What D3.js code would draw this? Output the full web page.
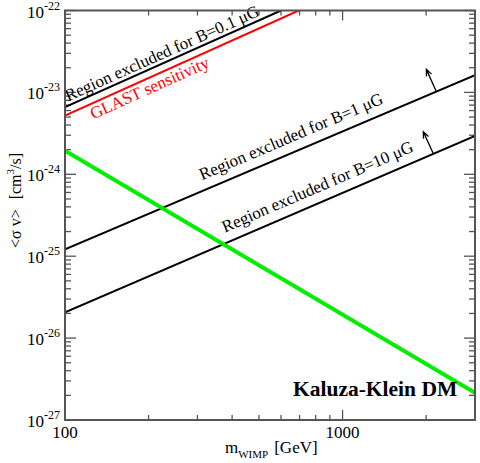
<!DOCTYPE html>
<html>
<head>
<meta charset="utf-8">
<script src="https://cdn.jsdelivr.net/npm/d3@7"></script>
<style>
  body { margin: 0; background: #fff; }
</style>
</head>
<body>
<div id="chart"></div>
<script>
// axis ranges and ticks
const massDomain = [100, 3000]
const sigmaDomain = [1e-27, 1e-22]
const massMajor = [100, 1000]
const massMinor = [200, 300, 400, 500, 600, 700, 800, 900, 2000]
const sigmaExp = [-27, -26, -25, -24, -23, -22]

// curves (endpoints)
const kkMass = [100, 3000]
const kkSigma = [1.94e-24, 2.15e-27]
const b01Mass = [100, 600]
const b01Sigma = [6.6e-24, 1e-22]
const glastMass = [100, 695]
const glastSigma = [5.2e-24, 1e-22]
const b1Mass = [100, 3000]
const b1Sigma = [1.21e-25, 1.62e-23]
const b10Mass = [100, 3000]
const b10Sigma = [2.07e-26, 2.94e-24]

// arrows: [base mass, base sigma, tip mass, tip sigma]
const arrows = [
    [2178, 1.02e-23, 2004, 1.91e-23],
    [2124, 1.78e-24, 1954, 3.3e-24]
]

const width = 480, height = 463
const margin = {left: 65, right: 5, top: 10.5, bottom: 43}
const serif = '"Liberation Serif", "Times New Roman", Times, "DejaVu Serif", serif'

let svg = d3.select('#chart').append('svg')
    .attr('width', width)
    .attr('height', height)
    .attr('font-family', serif)
    .style('font-family', serif)

let x = d3.scaleLog().domain(massDomain).range([margin.left, width - margin.right])
let y = d3.scaleLog().domain(sigmaDomain).range([height - margin.bottom, margin.top])

let x0 = margin.left, x1 = width - margin.right
let y0 = height - margin.bottom, y1 = margin.top

svg.append('defs').append('clipPath').attr('id', 'plotclip')
    .append('rect')
    .attr('x', x0).attr('y', y1)
    .attr('width', x1 - x0).attr('height', y0 - y1)

let axisColor = '#555'

// minor y ticks
let sigmaMinor = []
sigmaExp.slice(0, -1).forEach(function(e){
    for(let k = 2; k < 10; k++) sigmaMinor.push(k * Math.pow(10, e))
})

let ticks = svg.append('g').attr('stroke', axisColor).attr('stroke-width', 1.3)

function yTicks(values, len){
    values.forEach(function(v){
        ticks.append('line').attr('x1', x0).attr('x2', x0 + len).attr('y1', y(v)).attr('y2', y(v))
        ticks.append('line').attr('x1', x1).attr('x2', x1 - len).attr('y1', y(v)).attr('y2', y(v))
    })
}
function xTicks(values, len){
    values.forEach(function(v){
        ticks.append('line').attr('y1', y0).attr('y2', y0 - len).attr('x1', x(v)).attr('x2', x(v))
        ticks.append('line').attr('y1', y1).attr('y2', y1 + len).attr('x1', x(v)).attr('x2', x(v))
    })
}
yTicks(sigmaMinor, 6)
yTicks(sigmaExp.map(e => Math.pow(10, e)), 11)
xTicks(massMinor, 5)
xTicks(massMajor, 10)

// curves
let line = d3.line()
    .x(function(d){ return x(d[0]) })
    .y(function(d){ return y(d[1]) })

let plot = svg.append('g').attr('clip-path', 'url(#plotclip)')

function curve(mass, sigma, color, w){
    plot.append('path')
        .datum(mass.map((m, i) => [m, sigma[i]]))
        .attr('fill', 'none')
        .attr('stroke', color)
        .attr('stroke-width', w)
        .attr('d', line)
}
curve(b01Mass, b01Sigma, '#000', 2)
curve(glastMass, glastSigma, '#ff0000', 2)
curve(b1Mass, b1Sigma, '#000', 2)
curve(b10Mass, b10Sigma, '#000', 2)
curve(kkMass, kkSigma, '#00ee00', 4)

// arrows
arrows.forEach(function(a){
    let bx = x(a[0]), by = y(a[1]), tx = x(a[2]), ty = y(a[3])
    let ang = Math.atan2(by - ty, bx - tx)
    let head = 7
    svg.append('path')
        .attr('d', 'M' + bx + ',' + by + 'L' + tx + ',' + ty +
            'M' + (tx + head * Math.cos(ang + 0.4)) + ',' + (ty + head * Math.sin(ang + 0.4)) +
            'L' + tx + ',' + ty +
            'L' + (tx + head * Math.cos(ang - 0.4)) + ',' + (ty + head * Math.sin(ang - 0.4)))
        .attr('fill', 'none')
        .attr('stroke', '#000')
        .attr('stroke-width', 1.3)
})

// labels along lines
function sigmaAt(mass, sigma, m){
    let t = (Math.log10(m) - Math.log10(mass[0])) / (Math.log10(mass[1]) - Math.log10(mass[0]))
    return Math.pow(10, Math.log10(sigma[0]) + t * (Math.log10(sigma[1]) - Math.log10(sigma[0])))
}
function lineLabel(mass, sigma, m, txt, color, off){
    let ang = Math.atan2(y(sigma[1]) - y(sigma[0]), x(mass[1]) - x(mass[0])) * 180 / Math.PI
    let px = x(m), py = y(sigmaAt(mass, sigma, m))
    svg.append('text')
        .attr('transform', 'translate(' + px + ',' + py + ') rotate(' + ang + ')')
        .attr('y', off)
        .attr('font-size', 17)
        .attr('fill', color)
        .text(txt)
}
lineLabel(b01Mass, b01Sigma, 104, 'Region excluded for B=0.1 \u03bcG', '#000', -4)
lineLabel(glastMass, glastSigma, 120, 'GLAST sensitivity', '#ff0000', 15)
lineLabel(b1Mass, b1Sigma, 322, 'Region excluded for B=1 \u03bcG', '#000', -10)
lineLabel(b10Mass, b10Sigma, 389, 'Region excluded for B=10 \u03bcG', '#000', -10)

// frame
svg.append('rect')
    .attr('x', x0).attr('y', y1)
    .attr('width', x1 - x0).attr('height', y0 - y1)
    .attr('fill', 'none')
    .attr('stroke', axisColor)
    .attr('stroke-width', 2)

// tick labels
svg.append('g').selectAll('text')
    .data(massMajor)
    .enter()
    .append('text')
    .attr('x', d => x(d))
    .attr('y', y0 + 18)
    .attr('text-anchor', 'middle')
    .attr('font-size', 17)
    .text(d => d)

let yl = svg.append('g').selectAll('text')
    .data(sigmaExp)
    .enter()
    .append('text')
    .attr('x', 27)
    .attr('y', d => y(Math.pow(10, d)) + 7)
    .attr('font-size', 17)
yl.append('tspan').text('10')
yl.append('tspan').attr('dy', -8).attr('font-size', 12).text(d => d)

// axis titles
let xt = svg.append('text')
    .attr('x', 225)
    .attr('y', 453)
    .attr('font-size', 17)
xt.append('tspan').text('m')
xt.append('tspan').attr('dy', 5).attr('font-size', 11).text('WIMP')
xt.append('tspan').attr('dy', -5).attr('dx', 6).text('[GeV]')

let yt = svg.append('text')
    .attr('transform', 'translate(21,248) rotate(-90)')
    .attr('font-size', 16)
yt.append('tspan').text('<\u03c3 v>')
yt.append('tspan').attr('dx', 10).text('[cm')
yt.append('tspan').attr('dy', -7).attr('font-size', 11).text('3')
yt.append('tspan').attr('dy', 7).text('/s]')

svg.append('text')
    .attr('x', 293)
    .attr('y', 396)
    .attr('font-size', 21.5)
    .attr('font-weight', 'bold')
    .text('Kaluza-Klein DM')
</script>
</body>
</html>
